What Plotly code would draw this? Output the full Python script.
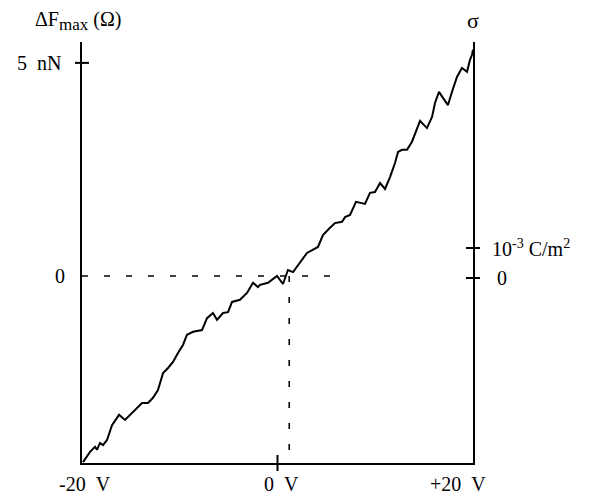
import plotly.graph_objects as go

# Curve: bias voltage (V) vs ΔF_max (nN)
volts = [-19.90, -19.18, -18.67, -18.47, -18.16, -17.85, -17.44, -16.93, -16.42, -16.21,
         -15.60, -14.78, -13.86, -13.25, -12.74, -12.23, -11.71, -11.20, -10.69, -10.18,
         -9.67, -9.26, -8.64, -7.72, -7.21, -6.60, -6.19, -5.58, -5.06, -4.65,
         -3.84, -3.12, -2.51, -2.00, -1.79, -0.97, -0.05, 0.56, 1.07, 1.59,
         2.30, 3.02, 4.14, 4.65, 5.37, 5.88, 6.60, 6.91, 7.42, 8.03,
         8.95, 9.46, 9.97, 10.49, 11.00, 11.51, 12.02, 12.33, 12.74, 13.25,
         13.76, 14.27, 14.58, 15.29, 15.81, 16.11, 16.52, 16.93, 17.44, 17.85,
         18.36, 18.87, 19.39, 19.69, 19.90, 20.00]
force_nN = [-4.37, -4.13, -4.01, -4.08, -3.92, -3.97, -3.85, -3.50, -3.33, -3.26,
            -3.38, -3.19, -2.98, -2.98, -2.86, -2.68, -2.28, -2.16, -2.02, -1.81,
            -1.62, -1.38, -1.31, -1.27, -0.99, -0.87, -1.03, -0.87, -0.85, -0.61,
            -0.56, -0.40, -0.16, -0.26, -0.21, -0.16, 0.00, -0.19, 0.14, 0.09,
            0.31, 0.54, 0.68, 0.96, 1.13, 1.24, 1.27, 1.38, 1.43, 1.74,
            1.69, 1.95, 1.97, 2.18, 2.04, 2.32, 2.65, 2.91, 2.96, 2.96,
            3.15, 3.47, 3.64, 3.47, 3.73, 4.06, 4.32, 4.18, 4.01, 4.32,
            4.67, 4.88, 4.79, 5.07, 5.19, 5.31]

x_ticks = [-20, 0, 20]
x_tick_labels = ["-20&#160;&#160;V", "0&#160;&#160;V", "+20&#160;&#160;V"]
y_ticks = [0, 5]
y_tick_labels = ["0", "5&#160;&#160;nN"]
sigma_ticks = [0, 1e-3]
sigma_tick_labels = ["0", "10<sup>-3</sup>&#160;C/m<sup>2</sup>"]

zero_crossing_v = 1.2     # voltage of the zero-force point (vertical dashed line)
dash_end_v = 5.4          # end of the horizontal dashed zero line

x_range = [-20, 20]
y_range = [-4.39, 5.49]
sigma_range = [-6.17e-3, 7.87e-3]

FONT = "Liberation Serif"
FS = 20

fig = go.Figure()
fig.add_trace(go.Scatter(x=volts, y=force_nN, mode="lines",
                         line=dict(color="black", width=2, shape="linear"),
                         hoverinfo="skip", showlegend=False))
fig.add_trace(go.Scatter(x=[20, 20], y=sigma_ticks, yaxis="y2", mode="markers",
                         marker=dict(opacity=0), hoverinfo="skip", showlegend=False))

shapes = []
# dashed zero lines
shapes.append(dict(type="line", xref="x", yref="y", x0=x_range[0], x1=dash_end_v, y0=0, y1=0,
                   line=dict(color="black", width=1.6, dash="6px,16px")))
shapes.append(dict(type="line", xref="x", yref="y", x0=zero_crossing_v, x1=zero_crossing_v,
                   y0=0, y1=y_range[0], line=dict(color="black", width=1.6, dash="6px,15px")))
# crossing tick on x axis
for xv in x_ticks[1:2]:
    shapes.append(dict(type="line", xref="x", yref="paper", ysizemode="pixel", yanchor=0,
                       x0=xv, x1=xv, y0=-8, y1=8, line=dict(color="black", width=2)))
# crossing ticks on left axis
for yv in y_ticks[1:]:
    shapes.append(dict(type="line", xref="paper", yref="y", xsizemode="pixel", xanchor=0,
                       x0=-7, x1=7, y0=yv, y1=yv, line=dict(color="black", width=2)))
# crossing ticks on right axis
for sv in sigma_ticks:
    shapes.append(dict(type="line", xref="paper", yref="y2", xsizemode="pixel", xanchor=1,
                       x0=-7, x1=7, y0=sv, y1=sv, line=dict(color="black", width=2)))

annotations = []
x_shifts = [3, 4, -15]
for xv, lab, xs in zip(x_ticks, x_tick_labels, x_shifts):
    annotations.append(dict(x=xv, y=0, xref="x", yref="paper", text=lab, showarrow=False,
                            xanchor="center", yanchor="top", yshift=-8, xshift=xs,
                            font=dict(family=FONT, size=FS, color="black")))
y_shifts = [-15, -19]
for yv, lab, xs in zip(y_ticks, y_tick_labels, y_shifts):
    annotations.append(dict(x=0, y=yv, xref="paper", yref="y", text=lab, showarrow=False,
                            xanchor="right", yanchor="middle", xshift=xs,
                            font=dict(family=FONT, size=FS, color="black")))
sig_shifts = [22, 17]
for sv, lab, xs in zip(sigma_ticks, sigma_tick_labels, sig_shifts):
    annotations.append(dict(x=1, y=sv, xref="paper", yref="y2", text=lab, showarrow=False,
                            xanchor="left", yanchor="middle", xshift=xs,
                            font=dict(family=FONT, size=FS, color="black")))
annotations.append(dict(x=0, y=1, xref="paper", yref="paper",
                        text="ΔF<sub><span style='font-size:17px'>max</span></sub>&#160;(Ω)",
                        showarrow=False, xanchor="center", yanchor="bottom", yshift=6, xshift=-4,
                        font=dict(family=FONT, size=FS, color="black")))
annotations.append(dict(x=1, y=1, xref="paper", yref="paper", text="σ",
                        showarrow=False, xanchor="center", yanchor="bottom", yshift=7,
                        font=dict(family=FONT, size=FS + 2, color="black")))

# the page body has an 8px margin, so the figure is shrunk by 8px and offsets compensate
fig.update_layout(
    width=589, height=489,
    margin=dict(l=74, r=124, t=34, b=34, pad=0),
    paper_bgcolor="white", plot_bgcolor="white",
    showlegend=False,
    xaxis=dict(range=x_range, showline=True, linecolor="black", linewidth=2,
               showgrid=False, zeroline=False, ticks="", showticklabels=False, fixedrange=True),
    yaxis=dict(range=y_range, showline=True, linecolor="black", linewidth=2,
               showgrid=False, zeroline=False, ticks="", showticklabels=False, fixedrange=True),
    yaxis2=dict(range=sigma_range, overlaying="y", side="right", showline=True,
                linecolor="black", linewidth=2, showgrid=False, zeroline=False,
                ticks="", showticklabels=False, fixedrange=True),
    shapes=shapes,
    annotations=annotations,
)

fig.write_html("out.html")
